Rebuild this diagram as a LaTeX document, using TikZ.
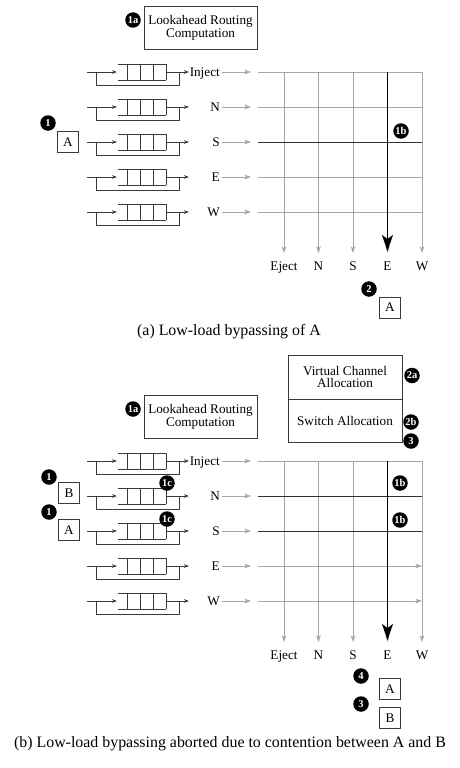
\documentclass[tikz,border=0pt]{standalone}
\usepackage{fontspec}
\setmainfont{Liberation Serif}
\usetikzlibrary{arrows.meta}
\definecolor{bufc}{HTML}{3A3A3A}
\definecolor{xbc}{HTML}{A6A6A6}
\definecolor{darkrow}{HTML}{2E2E2E}
\newcommand\lbl{\fontsize{13.2}{12.8}\selectfont}
\tikzset{
  bufline/.style={draw=bufc, line width=0.9pt},
  bufarrow/.style={bufline, -{Stealth[length=5pt,width=3.6pt]}},
  xbline/.style={draw=xbc, line width=0.9pt},
  xbarrow/.style={xbline, -{Stealth[length=6.5pt,width=4.5pt,inset=1.5pt]}},
  hotrow/.style={draw=darkrow, line width=0.9pt},
  hotcol/.style={draw=black, line width=1.3pt, -{Stealth[length=16pt,width=11pt,inset=4pt]}},
  badge/.style={circle, fill=black, text=white, font=\fontsize{10.5}{10.5}\selectfont\bfseries, inner sep=0.4pt, minimum size=15.5pt},
  pkt/.style={draw=bufc, line width=0.8pt, minimum size=21pt, inner sep=0pt, font=\lbl},
  unitbox/.style={draw=bufc, line width=0.9pt, align=center, font=\lbl, inner sep=0pt},
  portlbl/.style={font=\lbl, inner sep=1pt, anchor=base east},
  outlbl/.style={font=\lbl, inner sep=0pt, anchor=base},
  capt/.style={font=\fontsize{15.9}{18}\selectfont, inner sep=0pt},
}
\newcommand\xbpanel{%
  \node[unitbox, minimum width=113pt, minimum height=43pt] (lrc) at (200.5,27.5) {Lookahead Routing\\Computation};
  \node[badge] (b1a) at (133,20) {1a};
  \foreach \j/\lab in {0/Eject,1/N,2/S,3/E,4/W}{
    \pgfmathsetmacro\xx{284+34.5*\j}
    \coordinate (ct\j) at (\xx,72);
    \coordinate (cb\j) at (\xx,253);
    \draw[xbarrow] (ct\j) -- (cb\j);
    \node[outlbl] (o\j) at (\xx,270.5) {\lab};
  }
  \foreach \i/\lab in {0/Inject,1/N,2/S,3/E,4/W}{
    \pgfmathsetmacro\yy{72+35*\i}
    \coordinate (in\i) at (87,\yy);
    \coordinate (bl\i) at (117,\yy);
    \coordinate (br\i) at (166,\yy);
    \coordinate (bo\i) at (189,\yy);
    \draw[bufarrow] (in\i) -- (bl\i);
    \draw[bufline] (96,\yy) -- (96,\yy+13.5) -- (179,\yy+13.5) -- (179,\yy);
    \draw[bufline] (118,\yy-8) -- (166,\yy-8) (118,\yy+8) -- (166,\yy+8);
    \foreach \c in {127,140,153,166}{\draw[bufline] (\c,\yy-8) -- (\c,\yy+8);}
    \draw[bufarrow] (br\i) -- (bo\i);
    \node[portlbl] (p\i) at (221,\yy+4.5) {\lab};
    \coordinate (ls\i) at (222,\yy);
    \coordinate (le\i) at (251,\yy);
    \draw[xbarrow] (ls\i) -- (le\i);
    \coordinate (rs\i) at (258,\yy);
    \coordinate (re\i) at (422,\yy);
    \draw[row\i] (rs\i) -- (re\i);
  }
  \draw[hotcol] (ct3) -- ([yshift=2pt]cb3);
}
\begin{document}
\begin{tikzpicture}[x=1pt,y=-1pt]
\useasboundingbox (0,0) rectangle (460,768);
\fill[white] (0,0) rectangle (460,768);
% ---------- panel (a)
\begin{scope}[name prefix=a-, row0/.style={xbline}, row1/.style={xbline}, row2/.style={hotrow}, row3/.style={xbline}, row4/.style={xbline}]
  \xbpanel
  \node[badge] (b1) at (48,123) {1};
  \node[pkt] (pa) at (68,142) {A};
  \node[badge] (b1b) at (401,131) {1b};
  \node[badge] (b2) at (369,289) {2};
  \node[pkt] (pa2) at (390,307.5) {A};
  \node[capt] (cap) at (229,332) {(a) Low-load bypassing of A};
\end{scope}
% ---------- panel (b)
\begin{scope}[shift={(0,389)}, name prefix=b-, row0/.style={xbline}, row1/.style={hotrow}, row2/.style={hotrow}, row3/.style={xbarrow}, row4/.style={xbarrow}]
  \xbpanel
  \node[unitbox, minimum width=114pt, minimum height=44pt] (vca) at (345,-12) {Virtual Channel\\Allocation};
  \node[unitbox, minimum width=114pt, minimum height=43pt, anchor=north] (sa) at (vca.south) {Switch Allocation};
  \node[badge] (b2a) at (412,-13.5) {2a};
  \node[badge] (b2b) at (411,33) {2b};
  \node[badge] (b3t) at (411,52) {3};
  \node[badge] (b1B) at (49,88) {1};
  \node[pkt] (pb) at (69,104) {B};
  \node[badge] (b1A) at (49,123) {1};
  \node[pkt] (pa) at (69,141) {A};
  \node[badge] (b1cN) at (167,94) {1c};
  \node[badge] (b1cS) at (167,130) {1c};
  \node[badge] (b1bN) at (400,94) {1b};
  \node[badge] (b1bS) at (400,131) {1b};
  \node[badge] (b4) at (361,287) {4};
  \node[pkt] (pa2) at (390,300) {A};
  \node[badge] (b3) at (361,315) {3};
  \node[pkt] (pb2) at (390,329) {B};
  \node[capt] (cap) at (230,355) {(b) Low-load bypassing aborted due to contention between A and B};
\end{scope}
\end{tikzpicture}
\end{document}
